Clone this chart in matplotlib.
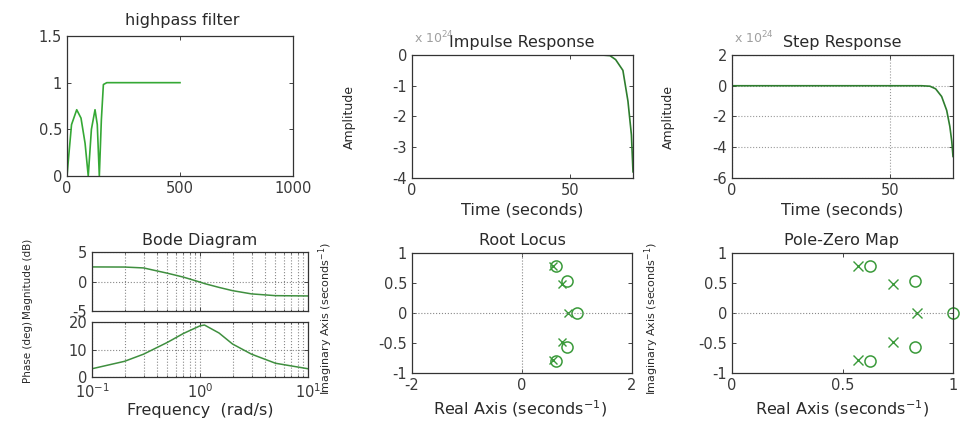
import numpy as np
import matplotlib
matplotlib.use("Agg")
import matplotlib.pyplot as plt
from matplotlib.ticker import LogLocator, NullFormatter

W, H = 968, 423

# highpass filter magnitude
hp_f = [0, 6, 20, 43, 62, 80, 94, 108, 124, 134, 143, 152, 161, 176, 500]
hp_mag = [0.0, 0.17, 0.55, 0.71, 0.62, 0.35, 0.0, 0.5, 0.71, 0.55, 0.0, 0.6, 0.98, 1.0, 1.0]

# impulse response
imp_t = [0, 60, 62.7, 64.5, 66.8, 68.4, 69.5, 70]
imp_y = [0, 0, -0.02, -0.15, -0.5, -1.5, -2.6, -3.8]

# step response
step_t = [0, 60, 62.7, 64.5, 66.4, 68, 69, 69.6, 70]
step_y = [0, 0, -0.03, -0.2, -0.7, -1.6, -2.65, -3.6, -4.6]

# bode
bode_w = [0.1, 0.2, 0.3, 0.5, 0.7, 1.0, 1.1, 1.5, 2.0, 3.0, 5.0, 10.0]
bode_mag = [2.47, 2.45, 2.3, 1.4, 0.75, -0.1, -0.35, -1.0, -1.55, -2.1, -2.4, -2.45]
bode_ph = [3.0, 5.7, 8.3, 12.6, 15.8, 18.6, 18.9, 16.0, 12.0, 8.3, 5.0, 3.0]

# poles and zeros
pole_re = [0.571, 0.571, 0.729, 0.729, 0.835]
pole_im = [0.78, -0.78, 0.48, -0.48, 0.0]
zero_re = [0.624, 0.624, 0.827, 0.827, 1.0]
zero_im = [0.79, -0.80, 0.54, -0.57, 0.0]

green = '#3a9a3a'
txt = '#2a2a2a'
plt.rcParams['font.family'] = 'DejaVu Sans'
plt.rcParams['axes.edgecolor'] = '#333333'
plt.rcParams['axes.linewidth'] = 0.9
plt.rcParams['axes.unicode_minus'] = False

fig = plt.figure(figsize=(W / 100, H / 100), dpi=100)
fig.patch.set_facecolor('white')


def box(l, r, t, b):
    return fig.add_axes([l / W, 1 - b / H, (r - l) / W, (b - t) / H])


def ftext(x, y, s, **kw):
    kw.setdefault('color', txt)
    kw.setdefault('ha', 'center')
    kw.setdefault('va', 'center')
    fig.text(x / W, 1 - y / H, s, **kw)


def style(ax):
    ax.tick_params(direction='in', top=True, right=True, labelsize=10.5,
                   labelcolor='#3a3a3a', length=3, width=0.7, color='#444444')


# highpass filter
ax1 = box(67, 293, 36, 176)
ax1.plot(hp_f, hp_mag, color='#35a835', lw=1.2)
ax1.set_xlim(0, 1000)
ax1.set_ylim(0, 1.5)
ax1.set_xticks([0, 500, 1000])
ax1.set_yticks([0, 0.5, 1, 1.5])
ax1.set_yticklabels(['0', '0.5', '1', '1.5'])
style(ax1)
ftext(182, 21, 'highpass filter', fontsize=11.5)

# impulse response
ax2 = box(412, 633, 55, 178)
ax2.plot(imp_t, imp_y, color='#2e7d2e', lw=1.2)
ax2.set_xlim(0, 70)
ax2.set_ylim(-4, 0)
ax2.set_xticks([0, 50])
ax2.set_yticks([-4, -3, -2, -1, 0])
style(ax2)
ftext(522, 42, 'Impulse Response', fontsize=11.5)
ftext(414, 38, r'x 10$^{24}$', fontsize=9, color='#777777', ha='left', alpha=0.7)
ftext(349, 117, 'Amplitude', fontsize=9, rotation=90)
ftext(522, 210, 'Time (seconds)', fontsize=11.5)

# step response
ax3 = box(732, 953, 55, 178)
ax3.plot(step_t, step_y, color='#2e7d2e', lw=1.2)
ax3.set_xlim(0, 70)
ax3.set_ylim(-6, 2)
ax3.set_xticks([0, 50])
ax3.set_yticks([-6, -4, -2, 0, 2])
ax3.grid(True, ls=':', color='#999999', lw=0.8)
style(ax3)
ftext(842, 42, 'Step Response', fontsize=11.5)
ftext(734, 38, r'x 10$^{24}$', fontsize=9, color='#777777', ha='left', alpha=0.7)
ftext(668, 117, 'Amplitude', fontsize=9, rotation=90)
ftext(842, 210, 'Time (seconds)', fontsize=11.5)

# bode diagram
axm = box(92, 308, 252, 311)
axp = box(92, 308, 322, 377)
axm.semilogx(bode_w, bode_mag, color='#3f8f3f', lw=1.1)
axp.semilogx(bode_w, bode_ph, color='#3f8f3f', lw=1.1)
axm.set_ylim(-5, 5)
axm.set_yticks([-5, 0, 5])
axp.set_ylim(0, 20)
axp.set_yticks([0, 10, 20])
for ax in (axm, axp):
    ax.set_xlim(0.1, 10)
    ax.xaxis.set_major_locator(LogLocator(base=10, numticks=5))
    ax.xaxis.set_minor_locator(LogLocator(base=10, subs=np.arange(2, 10), numticks=20))
    ax.xaxis.set_minor_formatter(NullFormatter())
    ax.grid(True, which='both', axis='x', ls=':', color='#888888', lw=0.8)
    ax.grid(True, which='major', axis='y', ls=':', color='#888888', lw=0.8)
    style(ax)
    ax.tick_params(which='minor', direction='in', top=True, length=1.5, color='#444444')
axm.set_xticklabels([])
ftext(200, 240, 'Bode Diagram', fontsize=11.5)
ftext(28, 279, 'Magnitude (dB)', fontsize=7.5, rotation=90)
ftext(28, 352, 'Phase (deg)', fontsize=7.5, rotation=90)
ftext(200, 410, 'Frequency  (rad/s)', fontsize=11.5)

# root locus
ax5 = box(412, 632, 253, 373)
ax5.plot(zero_re, zero_im, 'o', mfc='none', mec=green, ms=8, mew=1.1)
ax5.plot(pole_re, pole_im, 'x', color=green, ms=6, mew=1.0)
ax5.axhline(0, ls=':', color='#888888', lw=0.8)
ax5.axvline(0, ls=':', color='#888888', lw=0.8)
ax5.set_xlim(-2, 2)
ax5.set_ylim(-1, 1)
ax5.set_xticks([-2, 0, 2])
ax5.set_yticks([-1, -0.5, 0, 0.5, 1])
ax5.set_yticklabels(['-1', '-0.5', '0', '0.5', '1'])
style(ax5)
ftext(522, 240, 'Root Locus', fontsize=11.5)
ftext(326, 318, r'Imaginary Axis (seconds$^{-1}$)', fontsize=8, rotation=90)
ftext(520, 409, r'Real Axis (seconds$^{-1}$)', fontsize=11.5)

# pole-zero map
ax6 = box(732, 953, 253, 373)
ax6.plot(zero_re, zero_im, 'o', mfc='none', mec=green, ms=8, mew=1.1, clip_on=False)
ax6.plot(pole_re, pole_im, 'x', color=green, ms=7, mew=1.0)
ax6.axhline(0, ls=':', color='#888888', lw=0.8)
ax6.set_xlim(0, 1)
ax6.set_ylim(-1, 1)
ax6.set_xticks([0, 0.5, 1])
ax6.set_xticklabels(['0', '0.5', '1'])
ax6.set_yticks([-1, -0.5, 0, 0.5, 1])
ax6.set_yticklabels(['-1', '-0.5', '0', '0.5', '1'])
style(ax6)
ftext(842, 240, 'Pole-Zero Map', fontsize=11.5)
ftext(652, 318, r'Imaginary Axis (seconds$^{-1}$)', fontsize=8, rotation=90)
ftext(842, 409, r'Real Axis (seconds$^{-1}$)', fontsize=11.5)

fig.savefig('out.png', dpi=100, facecolor='white')
